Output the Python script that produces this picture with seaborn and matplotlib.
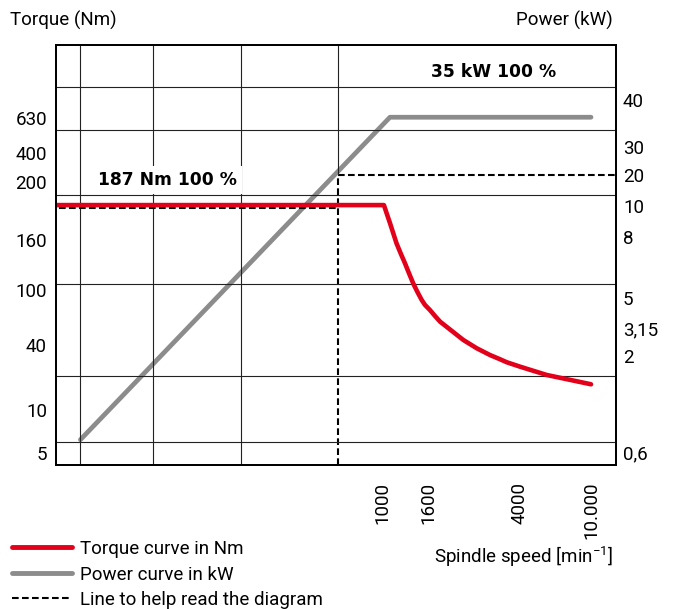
"""
Torque / power diagram of a spindle motor (schematic, piecewise scales)
"""

import numpy as np
import matplotlib
matplotlib.use("Agg")
import matplotlib.pyplot as plt
import seaborn as sns
from matplotlib.lines import Line2D

# tick labels of the three axes
SPEED_TICKS = [1000, 1600, 4000, 10000]
SPEED_TICK_LABELS = ["1000", "1600", "4000", "10.000"]
SPEED_GRID = [46, 97, 237, 1000, 1600, 4000, 10000]
TORQUE_TICKS = [5, 10, 40, 100, 160, 200, 400, 630]
TORQUE_TICK_LABELS = ["5", "10", "40", "100", "160", "200", "400", "630"]
POWER_TICKS = [0.6, 2, 3.15, 5, 8, 10, 20, 30, 40]
POWER_TICK_LABELS = ["0,6", "2", "3,15", "5", "8", "10", "20", "30", "40"]

# curves
torque_speed = [35, 1020, 1049, 1085, 1160, 1210, 1265, 1318, 1375, 1434,
                1500, 1552, 1630, 1716, 1805, 2274, 2600, 2967, 3280, 3504,
                4000, 5650, 7307, 10000]
torque_nm = [183, 183, 177.3, 170.8, 155.1, 141.2, 128.5, 117.0, 106.5, 97.2,
             84.7, 77.9, 71.7, 64.8, 59.0, 43.5, 37.3, 32.3, 29.5, 27.7,
             25.2, 21.1, 19.3, 17.3]
power_speed = [46, 1085, 10000]
power_kw = [0.7, 36, 36]

# guide lines
guide_speed = 638
guide_torque = 181
guide_power = 20

# where the tick labels sit on the (schematic) axes, as axes fraction
SPEED_POS = [0.5821, 0.6643, 0.8286, 0.9554]
TORQUE_POS = [0.0286, 0.131, 0.2857, 0.4167, 0.5357, 0.6738, 0.7429, 0.8262]
POWER_POS = [0.031, 0.2595, 0.3262, 0.3976, 0.5429, 0.6167, 0.6905, 0.7571, 0.869]
GRID_Y_FRAC = [0.0548, 0.2119, 0.431, 0.6429, 0.7976, 0.9]

RED = "#e2001a"
GREY = "#8c8c8c"


def extrap(x, xp, fp):
    """np.interp with linear extrapolation at both ends"""
    x = np.asarray(x, dtype=float)
    xp = np.asarray(xp, dtype=float)
    fp = np.asarray(fp, dtype=float)
    y = np.interp(x, xp, fp)
    lo = (fp[1] - fp[0]) / (xp[1] - xp[0])
    hi = (fp[-1] - fp[-2]) / (xp[-1] - xp[-2])
    y = np.where(x < xp[0], fp[0] + (x - xp[0]) * lo, y)
    y = np.where(x > xp[-1], fp[-1] + (x - xp[-1]) * hi, y)
    return y


def piecewise_log(values, fracs):
    """Scale functions that put each value at its fraction of the axis"""
    lv = np.log10(values)

    def fwd(v):
        return extrap(np.log10(np.clip(v, 1e-9, None)), lv, fracs)

    def inv(f):
        return 10 ** extrap(f, fracs, lv)

    return fwd, inv


sns.set_theme(style="white")
plt.rcParams["font.family"] = ["Roboto", "DejaVu Sans"]
plt.rcParams["mathtext.default"] = "regular"
plt.rcParams["text.color"] = "black"
FS = 13.5

fig = plt.figure(figsize=(6.76, 6.09), dpi=100)
ax = fig.add_axes([56 / 676, 144 / 609, 560 / 676, 420 / 609])
ax2 = ax.twinx()
ax.set_zorder(2)
ax2.set_zorder(1)
ax.patch.set_visible(False)

sp_fwd, sp_inv = piecewise_log(SPEED_TICKS, SPEED_POS)
tq_fwd, tq_inv = piecewise_log(TORQUE_TICKS, TORQUE_POS)
pw_fwd, pw_inv = piecewise_log(POWER_TICKS, POWER_POS)

ax.set_xscale("function", functions=(sp_fwd, sp_inv))
ax.set_yscale("function", functions=(tq_fwd, tq_inv))
ax2.set_yscale("function", functions=(pw_fwd, pw_inv))
ax.set_xlim(sp_inv(0.0), sp_inv(1.0))
ax.set_ylim(tq_inv(0.0), tq_inv(1.0))
ax2.set_ylim(pw_inv(0.0), pw_inv(1.0))

# power curve and its guide (lower layer)
sns.lineplot(x=power_speed, y=power_kw, ax=ax2, color=GREY, lw=3.4,
             sort=False, estimator=None)
ax2.plot([guide_speed, guide_speed, 20000], [0.1, guide_power, guide_power],
         color="black", lw=1.5, dashes=(3.2, 1.6))
ax2.vlines(guide_speed, guide_power, pw_inv(1.0), color="#222222", lw=0.8)

# grid
ax.set_xticks(SPEED_GRID, minor=True)
ax.set_yticks(tq_inv(np.array(GRID_Y_FRAC)), minor=True)
ax.grid(which="minor", color="#222222", lw=0.8)
ax.grid(which="major", visible=False)
ax2.grid(False)

# torque curve and its guide
ax.plot([20, guide_speed], [guide_torque, guide_torque], color="black",
        lw=1.5, dashes=(3.2, 1.6))
sns.lineplot(x=torque_speed, y=torque_nm, ax=ax, color=RED, lw=3.3,
             sort=False, estimator=None)

bold = dict(family="DejaVu Sans", fontsize=12.3, fontweight="bold",
            color="black", va="center", ha="left", zorder=5,
            bbox=dict(boxstyle="square,pad=0.3", fc="white", ec="none"))
ax.text(0.075, 0.6786, "187 Nm 100 %", transform=ax.transAxes, **bold)
ax.text(0.6696, 0.9357, "35 kW 100 %", transform=ax.transAxes, **bold)

# ticks
ax.set_xticks(SPEED_TICKS, SPEED_TICK_LABELS, rotation=90, fontsize=FS)
ax.set_yticks(TORQUE_TICKS, TORQUE_TICK_LABELS, fontsize=FS)
ax2.set_yticks(POWER_TICKS, POWER_TICK_LABELS, fontsize=FS)
ax.tick_params(axis="both", which="both", length=0, colors="black")
ax.tick_params(axis="x", pad=12)
ax.tick_params(axis="y", pad=6.5)
ax2.tick_params(axis="y", which="both", length=0, pad=5, colors="black")
ax.set_xlabel("")
ax.set_ylabel("")
ax2.set_ylabel("")

for a in (ax, ax2):
    for s in a.spines.values():
        s.set_color("black")
        s.set_linewidth(1.3)

fig.text(10 / 676, 1 - 20 / 609, "Torque (Nm)", fontsize=FS, va="center", ha="left")
fig.text(613 / 676, 1 - 20 / 609, "Power (kW)", fontsize=FS, va="center", ha="right")
fig.text(613 / 676, 1 - 557 / 609, "Spindle speed [min$^{-1}$]", fontsize=FS,
         va="center", ha="right")

handles = [
    Line2D([], [], color=RED, lw=3.5),
    Line2D([], [], color=GREY, lw=3.5),
    Line2D([], [], color="black", lw=1.5, dashes=(3.2, 1.6)),
]
labels = ["Torque curve in Nm", "Power curve in kW", "Line to help read the diagram"]
fig.legend(handles, labels, loc="upper left", bbox_to_anchor=(12 / 676, 1 - 540 / 609),
           frameon=False, fontsize=FS, handlelength=3.2, handletextpad=0.45,
           labelspacing=0.4, borderpad=0, borderaxespad=0)

fig.savefig("out.png", dpi=100)
